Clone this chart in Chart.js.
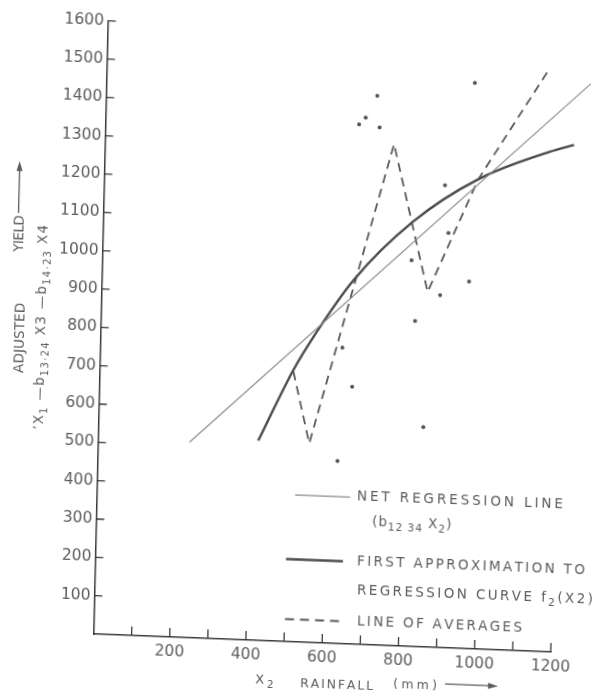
<!DOCTYPE html>
<html>
<head>
<meta charset="utf-8">
<script src="https://cdn.jsdelivr.net/npm/chart.js@4.4.1/dist/chart.umd.min.js"></script>
<style>
  html, body { margin: 0; padding: 0; background: #fff; }
  #wrap { position: relative; width: 595px; height: 698px; overflow: hidden; background: #fff; }
  #chart { position: absolute; left: 0; top: 0; }
</style>
</head>
<body>
<div id="wrap"><canvas id="chart" width="595" height="698"></canvas></div>
<script>
// Rainfall (mm) against adjusted yield
const rainfall = [629, 635, 663, 665, 682, 711, 719, 811, 824, 852, 888, 894, 906, 963, 966];
const yieldAdj = [476, 772, 671, 1356, 1374, 1432, 1350, 1007, 849, 573, 919, 1206, 1082, 957, 1476];

// net regression line (two end points)
const netLineX = [240, 1270];
const netLineY = [510, 1485];

// first approximation to the regression curve
const curveX = [420, 508, 567, 660, 813, 981, 1167, 1230];
const curveY = [521, 709, 811, 949, 1108, 1225, 1304, 1324];

// line of averages
const avgX = [508, 554, 758, 855, 981, 1160];
const avgY = [705, 519, 1308, 926, 1225, 1519];

const xLabelled = [200, 400, 600, 800, 1000, 1200];
const yLabelled = [100, 200, 300, 400, 500, 600, 700, 800, 900, 1000, 1100, 1200, 1300, 1400, 1500, 1600];

const INK = '#3a3a3a';
const TEXT = '#5c5c5c';
const FONT = '"DejaVu Sans", sans-serif';
const WEIGHT = '400';

// the scanned page sits a little crooked; the canvas gets the same tilt
const ORIGIN = [93.5, 634];
const SKEW = [0.99923, 0.03934, -0.02347, 0.99972];

const canvas = document.getElementById('chart');
canvas.style.transformOrigin = ORIGIN[0] + 'px ' + ORIGIN[1] + 'px';
canvas.style.transform = 'matrix(' + SKEW.join(',') + ',0,0)';

// page position -> canvas position (inverse of the tilt)
function unskew(fx, fy) {
  const [a, b, c, d] = SKEW;
  const det = a * d - b * c;
  const dx = fx - ORIGIN[0], dy = fy - ORIGIN[1];
  return [ORIGIN[0] + (d * dx - c * dy) / det, ORIGIN[1] + (-b * dx + a * dy) / det];
}

function pairs(xs, ys) {
  return xs.map((x, i) => ({ x: x, y: ys[i] }));
}

// draw text runs (for subscripts) starting at a page position, optionally spread to a width
function drawRuns(ctx, runs, fx, fy, opts) {
  opts = opts || {};
  const [ux, uy] = unskew(fx, fy);
  ctx.save();
  ctx.translate(ux, uy);
  if (opts.vertical) ctx.rotate(-Math.PI / 2);
  ctx.fillStyle = TEXT;
  ctx.textAlign = 'left';
  ctx.textBaseline = 'alphabetic';
  let natural = 0, count = 0;
  runs.forEach(r => {
    ctx.font = WEIGHT + ' ' + r.size + 'px ' + FONT;
    for (const ch of r.t) { natural += ctx.measureText(ch).width; count++; }
  });
  const gap = opts.width ? (opts.width - natural) / Math.max(1, count - 1) : (opts.track || 0);
  let x = 0;
  runs.forEach(r => {
    ctx.font = WEIGHT + ' ' + r.size + 'px ' + FONT;
    for (const ch of r.t) {
      ctx.fillText(ch, x, r.dy || 0);
      x += ctx.measureText(ch).width + gap;
    }
  });
  ctx.restore();
}

function sample(ctx, fx, fy, len, width, color, dash) {
  const [ux, uy] = unskew(fx, fy);
  ctx.save();
  ctx.strokeStyle = color;
  ctx.lineWidth = width;
  ctx.setLineDash(dash || []);
  ctx.beginPath();
  ctx.moveTo(ux, uy);
  ctx.lineTo(ux + len, uy);
  ctx.stroke();
  ctx.restore();
}

const innerTicks = {
  id: 'innerTicks',
  afterDraw(chart) {
    const { ctx, chartArea: area, scales: { x, y } } = chart;
    ctx.save();
    ctx.strokeStyle = INK;
    ctx.lineWidth = 1.3;
    ctx.beginPath();
    x.ticks.forEach(t => {
      if (t.value === 0) return;
      const px = x.getPixelForValue(t.value);
      ctx.moveTo(px, area.bottom);
      ctx.lineTo(px, area.bottom - 9);
    });
    y.ticks.forEach(t => {
      if (t.value === 0) return;
      const py = y.getPixelForValue(t.value);
      ctx.moveTo(area.left, py);
      ctx.lineTo(area.left + 8, py);
    });
    ctx.stroke();
    ctx.restore();
  }
};

const annotations = {
  id: 'annotations',
  afterDraw(chart) {
    const ctx = chart.ctx;

    // legend
    sample(ctx, 295, 495, 55, 1.1, '#8a8a8a');
    drawRuns(ctx, [{ t: 'NET REGRESSION LINE', size: 13.5 }], 357, 500, { width: 206 });
    drawRuns(ctx, [
      { t: '(b', size: 13.5 },
      { t: '12 34', size: 10.5, dy: 4 },
      { t: ' X', size: 13.5 },
      { t: '2', size: 10.5, dy: 4 },
      { t: ')', size: 13.5 }
    ], 372, 526, { track: 1 });
    sample(ctx, 286, 559, 57, 2.4, '#4d4d4d');
    drawRuns(ctx, [{ t: 'FIRST APPROXIMATION TO', size: 13.5 }], 357, 565, { width: 228 });
    drawRuns(ctx, [
      { t: 'REGRESSION CURVE f', size: 13.5 },
      { t: '2', size: 10.5, dy: 4 },
      { t: '(X2)', size: 13.5 }
    ], 357, 594, { width: 236 });
    sample(ctx, 285, 619, 55, 1.8, '#5a5a5a', [9, 6]);
    drawRuns(ctx, [{ t: 'LINE OF AVERAGES', size: 13.5 }], 357, 625, { width: 165 });

    // x title
    drawRuns(ctx, [{ t: 'X', size: 13 }, { t: '2', size: 10.5, dy: 4 }], 255, 683, { track: 3 });
    drawRuns(ctx, [{ t: 'RAINFALL', size: 12.5 }], 300, 687, { width: 73 });
    drawRuns(ctx, [{ t: '(mm)', size: 12.5 }], 393, 688, { width: 44 });
    const [ax, ay] = unskew(445, 688);
    ctx.save();
    ctx.strokeStyle = TEXT;
    ctx.fillStyle = TEXT;
    ctx.lineWidth = 1.1;
    ctx.beginPath();
    ctx.moveTo(ax, ay - 4);
    ctx.lineTo(ax + 48, ay - 4);
    ctx.stroke();
    ctx.beginPath();
    ctx.moveTo(ax + 53, ay - 4);
    ctx.lineTo(ax + 43, ay - 7);
    ctx.lineTo(ax + 43, ay - 1);
    ctx.closePath();
    ctx.fill();
    ctx.restore();

    // y title, two vertical lines
    drawRuns(ctx, [{ t: 'ADJUSTED', size: 13.5 }], 23, 373, { vertical: true, width: 70 });
    drawRuns(ctx, [{ t: 'YIELD', size: 13.5 }], 23, 252, { vertical: true, track: -0.5 });
    const [yx, yy] = unskew(18.5, 213);
    ctx.save();
    ctx.strokeStyle = TEXT;
    ctx.fillStyle = TEXT;
    ctx.lineWidth = 1.3;
    ctx.beginPath();
    ctx.moveTo(yx, yy);
    ctx.lineTo(yx, yy - 46);
    ctx.stroke();
    ctx.beginPath();
    ctx.moveTo(yx, yy - 52);
    ctx.lineTo(yx - 3, yy - 42);
    ctx.lineTo(yx + 3, yy - 42);
    ctx.closePath();
    ctx.fill();
    ctx.restore();

    drawRuns(ctx, [
      { t: '\u2019X', size: 13.5 },
      { t: '1', size: 10, dy: 4 },
      { t: ' \u2014b', size: 13.5 },
      { t: '13\u00b724', size: 10, dy: 4 },
      { t: ' X3 \u2014b', size: 13.5 },
      { t: '14\u00b723', size: 10, dy: 4 },
      { t: ' X4', size: 13.5 }
    ], 43, 430, { vertical: true, width: 205 });
  }
};

const tickFont = { family: FONT, size: 15.5, weight: WEIGHT };

new Chart(canvas, {
  type: 'scatter',
  data: {
    datasets: [
      {
        type: 'scatter',
        data: pairs(rainfall, yieldAdj),
        pointRadius: 2,
        pointBackgroundColor: '#555555',
        pointBorderWidth: 0,
        clip: false
      },
      {
        type: 'line',
        data: pairs(netLineX, netLineY),
        borderColor: '#8a8a8a',
        borderWidth: 1.1,
        pointRadius: 0,
        clip: false
      },
      {
        type: 'line',
        data: pairs(curveX, curveY),
        borderColor: '#4d4d4d',
        borderWidth: 2.4,
        pointRadius: 0,
        cubicInterpolationMode: 'monotone',
        clip: false
      },
      {
        type: 'line',
        data: pairs(avgX, avgY),
        borderColor: '#5a5a5a',
        borderWidth: 1.8,
        borderDash: [9, 6],
        pointRadius: 0,
        tension: 0,
        clip: false
      }
    ]
  },
  options: {
    responsive: false,
    animation: false,
    events: [],
    layout: { padding: { left: 0, top: 20.6, right: 43.9, bottom: 0 } },
    plugins: { legend: { display: false }, tooltip: { enabled: false } },
    scales: {
      x: {
        type: 'linear',
        min: 0,
        max: 1200,
        afterFit: s => { s.height = 64; },
        grid: { display: false, drawTicks: false },
        border: { display: true, color: INK, width: 1.5 },
        ticks: {
          stepSize: 100,
          autoSkip: false,
          maxRotation: 0,
          padding: 6,
          color: TEXT,
          font: tickFont,
          callback: v => xLabelled.includes(v) ? String(v) : ''
        }
      },
      y: {
        type: 'linear',
        min: 0,
        max: 1600,
        afterFit: s => { s.width = 93.5; },
        grid: { display: false, drawTicks: false },
        border: { display: true, color: INK, width: 1.5 },
        ticks: {
          stepSize: 100,
          autoSkip: false,
          padding: 4,
          color: TEXT,
          font: tickFont,
          callback: v => yLabelled.includes(v) ? String(v) : ''
        }
      }
    }
  },
  plugins: [innerTicks, annotations]
});
</script>
</body>
</html>
